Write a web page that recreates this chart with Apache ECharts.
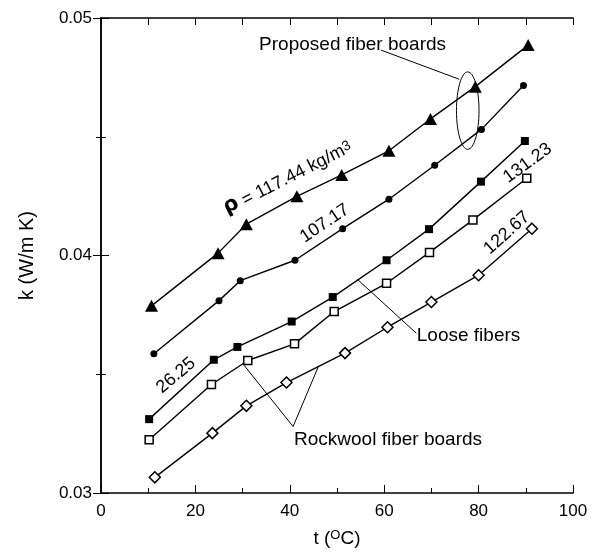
<!DOCTYPE html>
<html><head><meta charset="utf-8">
<script src="https://cdn.jsdelivr.net/npm/echarts@6/dist/echarts.min.js"></script>
<style>html,body{margin:0;padding:0;background:#fff}#c{width:598px;height:554px}</style>
</head><body><div id="c"></div>
<script>
// ---- data ----
const t_117 = [10.7, 24.8, 30.8, 41.5, 51.0, 61.0, 69.8, 79.3, 90.5];
const k_117 = [0.03788, 0.0401, 0.04132, 0.04249, 0.04339, 0.04441, 0.04575, 0.04711, 0.04886];
const t_107 = [11.2, 25.0, 29.5, 41.1, 51.2, 61.0, 70.7, 80.6, 89.5];
const k_107 = [0.03586, 0.0381, 0.03894, 0.0398, 0.04113, 0.04237, 0.0438, 0.04531, 0.04716];
const t_26 = [10.2, 23.9, 28.9, 40.4, 49.1, 60.5, 69.5, 80.5, 89.8];
const k_26 = [0.03311, 0.03561, 0.03615, 0.03722, 0.03825, 0.0398, 0.04111, 0.04311, 0.04482];
const t_131 = [10.2, 23.4, 31.1, 41.0, 49.4, 60.5, 69.6, 78.8, 90.2];
const k_131 = [0.03224, 0.03457, 0.03558, 0.03628, 0.03764, 0.03883, 0.04013, 0.0415, 0.04325];
const t_122 = [11.4, 23.6, 30.8, 39.3, 51.7, 60.7, 70.0, 80.0, 91.3];
const k_122 = [0.03066, 0.03252, 0.03367, 0.03465, 0.03589, 0.03698, 0.03804, 0.03917, 0.04113];

const xTicks = {min: 0, max: 100, interval: 20};
const yTicks = {min: 0.03, max: 0.05, interval: 0.01};

// annotation anchors, in data units
const groupLabels = [
  {text: 'Proposed fiber boards', at: [33.5, 0.04886]},
  {text: 'Loose fibers', at: [66.9, 0.03662]},
  {text: 'Rockwool fiber boards', at: [40.9, 0.03224]}
];
const densityLabels = [
  {text: '{rho|ρ}{n| = 117.44 kg/m}{sup|3}', at: [39.6, 0.04325], angle: 27},
  {text: '{n|107.17}', at: [47.4, 0.04135], angle: 34},
  {text: '{n|26.25}', at: [15.9, 0.03495], angle: 40},
  {text: '{n|131.23}', at: [90.4, 0.04389], angle: 36},
  {text: '{n|122.67}', at: [86.0, 0.04095], angle: 42}
];
const leaders = [
  [[59.3, 0.04865], [75.9, 0.04742]],
  [[54.3, 0.0390], [66.8, 0.03673]],
  [[30.3, 0.03538], [40.7, 0.0328], [46.0, 0.0353]]
];
const ellipseData = {center: [77.7, 0.0461], semi: [2.39, 0.00163]};

// ---- chart ----
const FONT = 'Liberation Sans, Arial, sans-serif';
const zip = (a, b) => a.map((v, i) => [v, b[i]]);
const chart = echarts.init(document.getElementById('c'), null, {renderer: 'canvas'});

function lineSeries(name, t, k, symbol, size, filled) {
  return {
    type: 'line', name, data: zip(t, k), symbol, symbolSize: size,
    showAllSymbol: true, silent: true, animation: false,
    lineStyle: {color: '#000', width: 1.4},
    itemStyle: filled ? {color: '#000', borderWidth: 0} : {color: '#fff', borderColor: '#000', borderWidth: 1.5},
    z: 3
  };
}

const axisLine = {show: true, lineStyle: {color: '#000', width: 1.5}};
chart.setOption({
  animation: false,
  backgroundColor: '#fff',
  grid: {left: 101, right: 25, top: 18, bottom: 61, containLabel: false, outerBoundsMode: 'none'},
  xAxis: [{
    type: 'value', position: 'bottom', min: xTicks.min, max: xTicks.max, interval: xTicks.interval,
    axisLine, splitLine: {show: false},
    axisTick: {inside: true, length: 8, lineStyle: {color: '#000', width: 1}},
    minorTick: {show: true, splitNumber: 2, length: 5, lineStyle: {color: '#000', width: 1}},
    axisLabel: {color: '#000', fontSize: 17, fontFamily: FONT, margin: 10},
    name: '{n|t (}{sup|O}{n|C)}', nameLocation: 'middle', nameGap: 36,
    nameTextStyle: {fontFamily: FONT, color: '#000', rich: {
      n: {fontSize: 19, fontFamily: FONT, color: '#000', lineHeight: 19, verticalAlign: 'bottom'},
      sup: {fontSize: 13, fontFamily: FONT, color: '#000', lineHeight: 13, padding: [0, 0, 9, 0], verticalAlign: 'top'}
    }}
  }, {
    type: 'value', position: 'top', min: xTicks.min, max: xTicks.max, interval: 10,
    axisLine, splitLine: {show: false},
    axisTick: {inside: true, length: 7, lineStyle: {color: '#000', width: 1}},
    axisLabel: {show: false}
  }],
  yAxis: [{
    type: 'value', position: 'left', min: yTicks.min, max: yTicks.max, interval: yTicks.interval,
    axisLine, splitLine: {show: false},
    axisTick: {inside: true, length: 8, lineStyle: {color: '#000', width: 1}},
    minorTick: {show: true, splitNumber: 2, length: 5, lineStyle: {color: '#000', width: 1}},
    axisLabel: {color: '#000', fontSize: 17, fontFamily: FONT, margin: 9, formatter: v => v.toFixed(2)},
    name: 'k (W/m K)', nameLocation: 'middle', nameGap: 64, nameRotate: 90,
    nameTextStyle: {fontSize: 20, fontFamily: FONT, color: '#000'}
  }, {
    type: 'value', position: 'right', min: yTicks.min, max: yTicks.max, interval: yTicks.interval,
    axisLine, splitLine: {show: false},
    axisTick: {inside: true, length: 8, lineStyle: {color: '#000', width: 1}},
    minorTick: {show: true, splitNumber: 2, length: 5, lineStyle: {color: '#000', width: 1}},
    axisLabel: {show: false}
  }],
  series: [
    lineSeries('117.44', t_117, k_117, 'triangle', [13, 12], true),
    lineSeries('107.17', t_107, k_107, 'circle', 7, true),
    lineSeries('26.25', t_26, k_26, 'rect', 8, true),
    lineSeries('131.23', t_131, k_131, 'rect', 8, false),
    lineSeries('122.67', t_122, k_122, 'diamond', 11, false)
  ]
});

const px = p => chart.convertToPixel({gridIndex: 0}, p);
const graphics = [];
groupLabels.forEach(g => {
  const [x, y] = px(g.at);
  graphics.push({type: 'text', x, y, z: 10, silent: true,
    style: {text: g.text, fill: '#000', font: '19px ' + FONT, align: 'left', verticalAlign: 'middle'}});
});
densityLabels.forEach(g => {
  const [x, y] = px(g.at);
  graphics.push({type: 'text', x, y, rotation: g.angle * Math.PI / 180, z: 10, silent: true,
    style: {text: g.text, fill: '#000', font: '18px ' + FONT, align: 'center', verticalAlign: 'middle',
      rich: {
        n: {fontSize: 18, fontFamily: FONT, fill: '#000', lineHeight: 18, verticalAlign: 'bottom'},
        rho: {fontSize: 21, fontWeight: 'bold', fontFamily: 'DejaVu Sans', fill: '#000', lineHeight: 18, verticalAlign: 'bottom'},
        sup: {fontSize: 14, fontFamily: FONT, fill: '#000', lineHeight: 14, padding: [0, 0, 14, 0], verticalAlign: 'top'}
      }}});
});
leaders.forEach(pts => {
  graphics.push({type: 'polyline', z: 10, silent: true, shape: {points: pts.map(px)},
    style: {stroke: '#000', lineWidth: 1, fill: null}});
});
{
  const c = px(ellipseData.center);
  const e = px([ellipseData.center[0] + ellipseData.semi[0], ellipseData.center[1] + ellipseData.semi[1]]);
  graphics.push({type: 'ellipse', z: 10, silent: true,
    shape: {cx: c[0], cy: c[1], rx: Math.abs(e[0] - c[0]), ry: Math.abs(e[1] - c[1])},
    style: {stroke: '#000', lineWidth: 1, fill: null}});
}
chart.setOption({graphic: graphics});
</script>
</body></html>
